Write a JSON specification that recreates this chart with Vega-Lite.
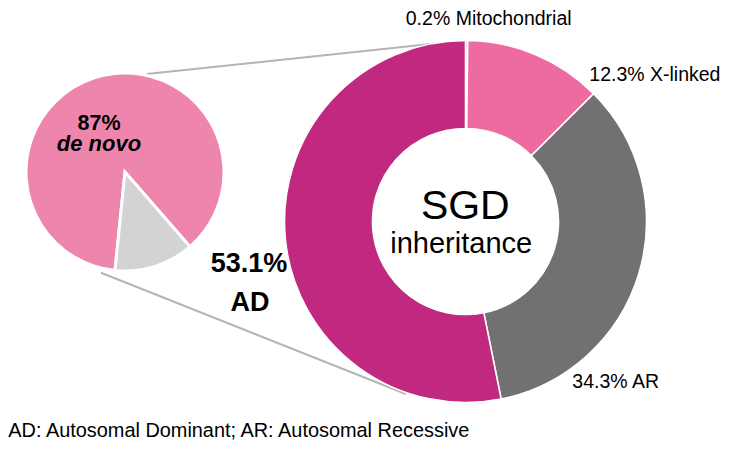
{
  "$schema": "https://vega.github.io/schema/vega-lite/v6.json",
  "width": 750,
  "height": 450,
  "padding": 0,
  "autosize": "none",
  "background": "white",
  "config": {
    "view": {"stroke": null},
    "text": {"font": "Liberation Sans", "fontSize": 19.5, "color": "#000000", "baseline": "alphabetic"}
  },
  "datasets": {
    "inheritance": [
      {"mode": "Mitochondrial", "pct": 0.2, "k": 1},
      {"mode": "X-linked", "pct": 12.3, "k": 2},
      {"mode": "AR", "pct": 34.3, "k": 3},
      {"mode": "AD", "pct": 53.1, "k": 4}
    ],
    "ad_origin": [
      {"origin": "de novo", "pct": 87, "k": 1},
      {"origin": "inherited", "pct": 13, "k": 2}
    ]
  },
  "layer": [
    {
      "data": {"values": [{}]},
      "mark": {"type": "rule", "color": "#b4b4b4", "strokeWidth": 2},
      "encoding": {
        "x": {"datum": 146.7, "type": "quantitative", "scale": {"domain": [0, 750], "nice": false, "zero": false}, "axis": null},
        "y": {"datum": 74, "type": "quantitative", "scale": {"domain": [0, 450], "nice": false, "zero": false, "reverse": true}, "axis": null},
        "x2": {"datum": 440},
        "y2": {"datum": 43}
      }
    },
    {
      "data": {"values": [{}]},
      "mark": {"type": "rule", "color": "#b4b4b4", "strokeWidth": 2},
      "encoding": {
        "x": {"datum": 101, "type": "quantitative", "scale": {"domain": [0, 750], "nice": false, "zero": false}, "axis": null},
        "y": {"datum": 272.7, "type": "quantitative", "scale": {"domain": [0, 450], "nice": false, "zero": false, "reverse": true}, "axis": null},
        "x2": {"datum": 406},
        "y2": {"datum": 394}
      }
    },
    {
      "data": {"name": "ad_origin"},
      "mark": {"type": "arc", "radius": 99, "stroke": "white", "strokeWidth": 3},
      "encoding": {
        "x": {"datum": 125, "type": "quantitative", "scale": {"domain": [0, 750], "nice": false, "zero": false}, "axis": null},
        "y": {"datum": 172, "type": "quantitative", "scale": {"domain": [0, 450], "nice": false, "zero": false, "reverse": true}, "axis": null},
        "theta": {"field": "pct", "type": "quantitative", "stack": true, "scale": {"range": [3.2428, 9.526]}},
        "order": {"field": "k"},
        "color": {"field": "origin", "type": "nominal", "legend": null,
          "scale": {"domain": ["de novo", "inherited"], "range": ["#ee85ad", "#d3d3d3"]}}
      }
    },
    {
      "data": {"name": "inheritance"},
      "mark": {"type": "arc", "radius": 181, "radius2": 93, "stroke": "white", "strokeWidth": 1.6},
      "encoding": {
        "x": {"datum": 465.5, "type": "quantitative", "scale": {"domain": [0, 750], "nice": false, "zero": false}, "axis": null},
        "y": {"datum": 221.5, "type": "quantitative", "scale": {"domain": [0, 450], "nice": false, "zero": false, "reverse": true}, "axis": null},
        "theta": {"field": "pct", "type": "quantitative", "stack": true, "scale": {"range": [0, 6.2832]}},
        "order": {"field": "k"},
        "color": {"field": "mode", "type": "nominal", "legend": null,
          "scale": {"domain": ["Mitochondrial", "X-linked", "AR", "AD"], "range": ["#b8b8b8", "#ed6b9e", "#717171", "#c1287f"]}}
      }
    },
    {
      "data": {"values": [{"t": "0.2% Mitochondrial"}]},
      "mark": {"type": "text", "align": "center"},
      "encoding": {
        "x": {"datum": 488.7, "type": "quantitative", "scale": {"domain": [0, 750], "nice": false, "zero": false}, "axis": null},
        "y": {"datum": 25, "type": "quantitative", "scale": {"domain": [0, 450], "nice": false, "zero": false, "reverse": true}, "axis": null},
        "text": {"field": "t"}
      }
    },
    {
      "data": {"values": [{"t": "12.3% X-linked"}]},
      "mark": {"type": "text", "align": "left"},
      "encoding": {
        "x": {"datum": 589.3, "type": "quantitative", "scale": {"domain": [0, 750], "nice": false, "zero": false}, "axis": null},
        "y": {"datum": 81, "type": "quantitative", "scale": {"domain": [0, 450], "nice": false, "zero": false, "reverse": true}, "axis": null},
        "text": {"field": "t"}
      }
    },
    {
      "data": {"values": [{"t": "34.3% AR"}]},
      "mark": {"type": "text", "align": "left"},
      "encoding": {
        "x": {"datum": 572.3, "type": "quantitative", "scale": {"domain": [0, 750], "nice": false, "zero": false}, "axis": null},
        "y": {"datum": 387.7, "type": "quantitative", "scale": {"domain": [0, 450], "nice": false, "zero": false, "reverse": true}, "axis": null},
        "text": {"field": "t"}
      }
    },
    {
      "data": {"values": [{"t": "53.1%"}]},
      "mark": {"type": "text", "align": "center", "fontSize": 27, "fontWeight": "bold"},
      "encoding": {
        "x": {"datum": 249, "type": "quantitative", "scale": {"domain": [0, 750], "nice": false, "zero": false}, "axis": null},
        "y": {"datum": 272.3, "type": "quantitative", "scale": {"domain": [0, 450], "nice": false, "zero": false, "reverse": true}, "axis": null},
        "text": {"field": "t"}
      }
    },
    {
      "data": {"values": [{"t": "AD"}]},
      "mark": {"type": "text", "align": "center", "fontSize": 27, "fontWeight": "bold"},
      "encoding": {
        "x": {"datum": 250, "type": "quantitative", "scale": {"domain": [0, 750], "nice": false, "zero": false}, "axis": null},
        "y": {"datum": 310.5, "type": "quantitative", "scale": {"domain": [0, 450], "nice": false, "zero": false, "reverse": true}, "axis": null},
        "text": {"field": "t"}
      }
    },
    {
      "data": {"values": [{"t": "87%"}]},
      "mark": {"type": "text", "align": "center", "fontSize": 21.5, "fontWeight": "bold"},
      "encoding": {
        "x": {"datum": 99, "type": "quantitative", "scale": {"domain": [0, 750], "nice": false, "zero": false}, "axis": null},
        "y": {"datum": 130, "type": "quantitative", "scale": {"domain": [0, 450], "nice": false, "zero": false, "reverse": true}, "axis": null},
        "text": {"field": "t"}
      }
    },
    {
      "data": {"values": [{"t": "de novo"}]},
      "mark": {"type": "text", "align": "center", "fontSize": 22, "fontWeight": "bold", "fontStyle": "italic"},
      "encoding": {
        "x": {"datum": 99, "type": "quantitative", "scale": {"domain": [0, 750], "nice": false, "zero": false}, "axis": null},
        "y": {"datum": 151, "type": "quantitative", "scale": {"domain": [0, 450], "nice": false, "zero": false, "reverse": true}, "axis": null},
        "text": {"field": "t"}
      }
    },
    {
      "data": {"values": [{"t": "SGD"}]},
      "mark": {"type": "text", "align": "center", "fontSize": 41},
      "encoding": {
        "x": {"datum": 465.3, "type": "quantitative", "scale": {"domain": [0, 750], "nice": false, "zero": false}, "axis": null},
        "y": {"datum": 219, "type": "quantitative", "scale": {"domain": [0, 450], "nice": false, "zero": false, "reverse": true}, "axis": null},
        "text": {"field": "t"}
      }
    },
    {
      "data": {"values": [{"t": "inheritance"}]},
      "mark": {"type": "text", "align": "center", "fontSize": 29},
      "encoding": {
        "x": {"datum": 461.2, "type": "quantitative", "scale": {"domain": [0, 750], "nice": false, "zero": false}, "axis": null},
        "y": {"datum": 252.5, "type": "quantitative", "scale": {"domain": [0, 450], "nice": false, "zero": false, "reverse": true}, "axis": null},
        "text": {"field": "t"}
      }
    },
    {
      "data": {"values": [{"t": "AD: Autosomal Dominant; AR: Autosomal Recessive"}]},
      "mark": {"type": "text", "align": "left", "fontSize": 19.9},
      "encoding": {
        "x": {"datum": 8.3, "type": "quantitative", "scale": {"domain": [0, 750], "nice": false, "zero": false}, "axis": null},
        "y": {"datum": 436.7, "type": "quantitative", "scale": {"domain": [0, 450], "nice": false, "zero": false, "reverse": true}, "axis": null},
        "text": {"field": "t"}
      }
    }
  ],
  "resolve": {"scale": {"theta": "independent", "color": "independent"}}
}
